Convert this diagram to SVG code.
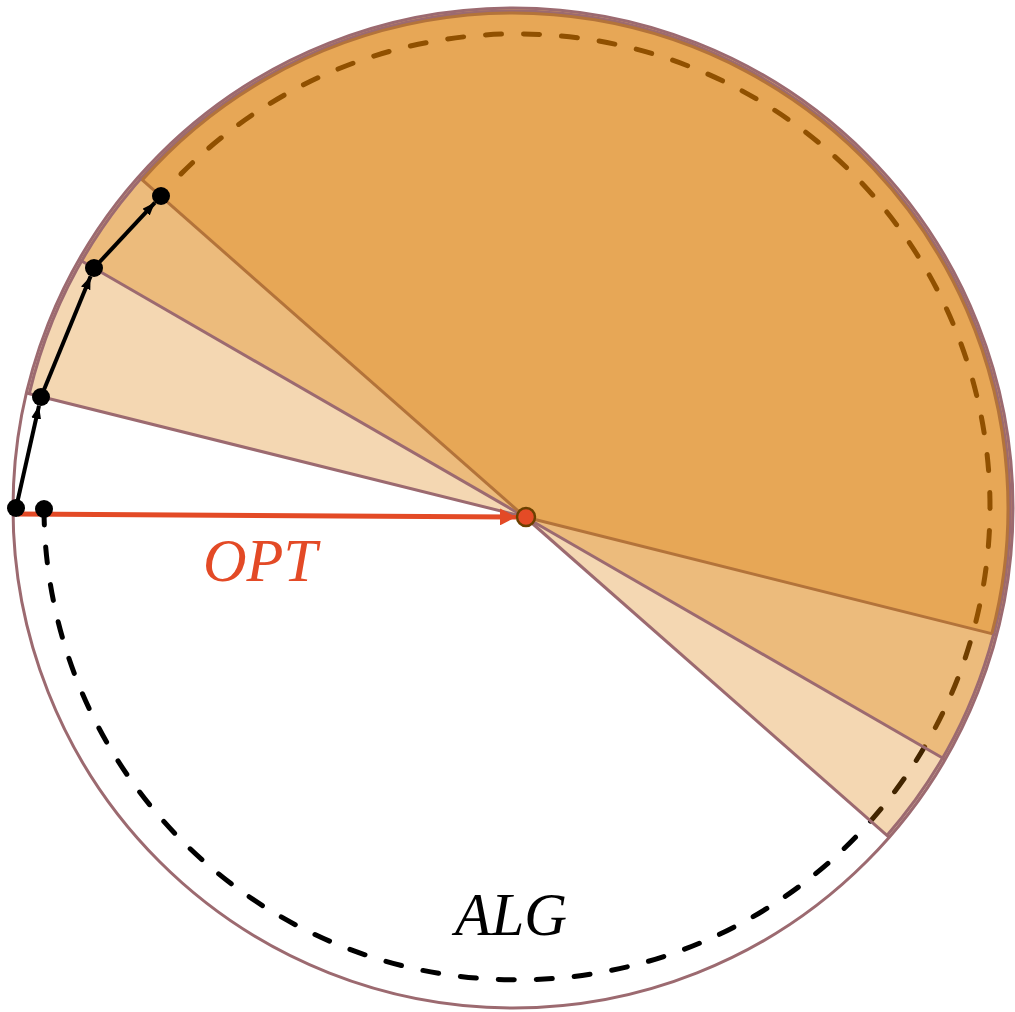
<svg xmlns="http://www.w3.org/2000/svg" width="1015" height="1012" viewBox="0 0 1015 1012">
  <style>
    .sector { fill: #DA7C00; fill-opacity: 0.3; stroke: none; }
    .edge { stroke: #9C6A70; stroke-width: 3; fill: none; }
    .edge-dark { stroke: #B3733A; stroke-width: 3; fill: none; }
    .dash { fill: none; stroke: #000; stroke-width: 5; stroke-linecap: round; stroke-dasharray: 16 22; }
    .path-seg { stroke: #000; stroke-width: 4; fill: none; }
    .dot { fill: #000; }
    .label { font-family: "Liberation Serif", "DejaVu Serif", serif; font-style: italic; font-size: 61px; }
  </style>
  <defs>
    <marker id="blackHead" markerUnits="userSpaceOnUse" markerWidth="14" markerHeight="10" refX="13" refY="5" orient="auto">
      <path d="M0,0 L13,5 L0,10 z" fill="#000"/>
    </marker>
    <marker id="redHead" markerUnits="userSpaceOnUse" markerWidth="17" markerHeight="17" refX="16" refY="8.5" orient="auto">
      <path d="M0,0 L16,8.5 L0,17 z" fill="#E34A26"/>
    </marker>
  </defs>
  <rect width="1015" height="1012" fill="#fff"/>

  <g id="alg-arc">
    <path class="dash" d="M 44 509 A 473 473 0 1 0 178 177"/>
  </g>

  <g id="sectors">
    <path id="sector-light" class="sector" d="M 525 517 L 26.4 393 A 500 500 0 1 1 889.2 837.4 Z"/>
    <path id="sector-medium" class="sector" d="M 525 517 L 79.1 259.5 A 500 500 0 1 1 945.2 759.5 Z"/>
    <path id="sector-dark" class="sector" d="M 525 517 L 138.5 176.7 A 500 500 0 0 1 996.6 634.9 Z"/>
  </g>

  <g id="connectors">
    <line class="edge" x1="525" y1="517" x2="26.4" y2="393"/>
    <line class="edge" x1="525" y1="517" x2="889.2" y2="837.4"/>
    <line class="edge" x1="525" y1="517" x2="79.1" y2="259.5"/>
    <line class="edge" x1="525" y1="517" x2="945.2" y2="759.5"/>
    <line class="edge-dark" x1="525" y1="517" x2="138.5" y2="176.7"/>
    <line class="edge-dark" x1="525" y1="517" x2="996.6" y2="634.9"/>
    <path class="edge" d="M 29.3 393.7 A 497 497 0 1 1 886.9 835.4"/>
    <path class="edge-dark" stroke-width="2" d="M 142.3 180 A 495 495 0 0 1 991.8 633.6"/>
    <line x1="18" y1="514" x2="516" y2="517" stroke="#E34A26" stroke-width="5" marker-end="url(#redHead)"/>
    <line class="path-seg" x1="16" y1="508" x2="39" y2="405.8" marker-end="url(#blackHead)"/>
    <line class="path-seg" x1="41" y1="397" x2="90.6" y2="276.3" marker-end="url(#blackHead)"/>
    <line class="path-seg" x1="94" y1="268" x2="154.9" y2="202.6" marker-end="url(#blackHead)"/>
  </g>

  <g id="outer-circle">
    <circle cx="513" cy="508" r="500" fill="none" stroke="#9C6A70" stroke-width="3"/>
  </g>

  <g id="points">
    <circle class="dot" cx="16" cy="508" r="9"/>
    <circle class="dot" cx="44" cy="509" r="9"/>
    <circle class="dot" cx="41" cy="397" r="9"/>
    <circle class="dot" cx="94" cy="268" r="9"/>
    <circle class="dot" cx="161" cy="196" r="9"/>
  </g>
  <g id="center-point">
    <circle cx="526" cy="517" r="9" fill="#E44B26" stroke="#6B4000" stroke-width="2.5"/>
  </g>

  <g id="labels">
    <text class="label" x="203" y="581" fill="#E34A26" textLength="114" lengthAdjust="spacingAndGlyphs">OPT</text>
    <text class="label" x="455" y="935" fill="#000" textLength="112" lengthAdjust="spacingAndGlyphs">ALG</text>
  </g>
</svg>
